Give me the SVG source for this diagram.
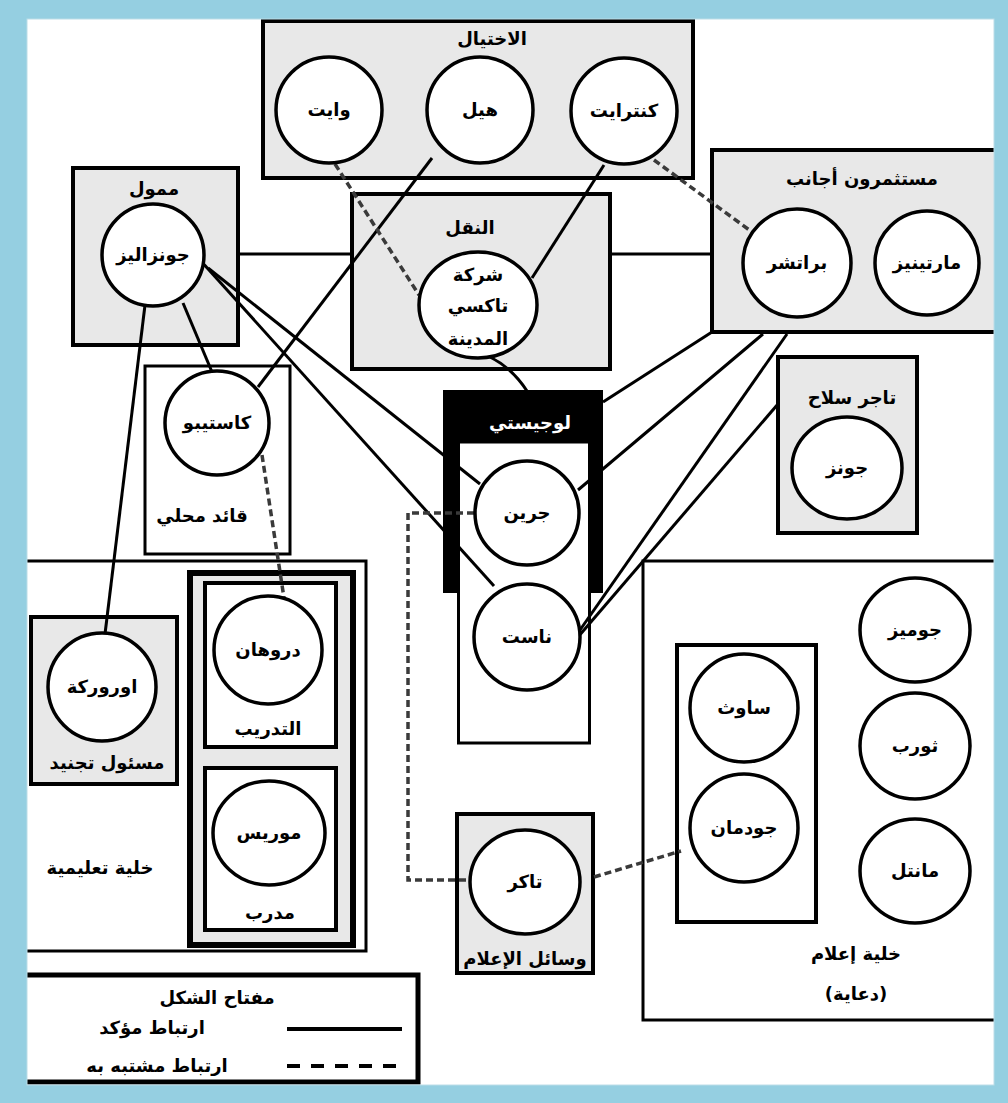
<svg xmlns="http://www.w3.org/2000/svg" width="1008" height="1103" viewBox="0 0 1008 1103">
<style>
.bg{fill:#e8e8e8;stroke:#000;stroke-width:4}
.bw{fill:#fff;stroke:#000;stroke-width:3}
.bw4{fill:#fff;stroke:#000;stroke-width:4}
.nd{fill:#fff;stroke:#000;stroke-width:3.5}
text{font-family:"DejaVu Sans","Noto Sans",sans-serif;font-weight:bold;font-size:18px;text-anchor:middle;fill:#000}
.wt{fill:#fff}
.sl{stroke:#000;stroke-width:3;fill:none}
.ds{stroke:#3a3a3a;stroke-width:3.5;stroke-dasharray:7 4;fill:none}
</style>
<rect x="0" y="0" width="1008" height="1103" fill="#fff"/>

<g id="containers">
  <g id="box-ikhtiyal"><rect class="bg" x="263" y="21" width="430" height="157"/><text x="492" y="45">الاختيال</text></g>
  <g id="box-mumawwil"><rect class="bg" x="73" y="168" width="165" height="177"/><text x="154" y="195">ممول</text></g>
  <g id="box-naql"><rect class="bg" x="352" y="194" width="258" height="175"/><text x="470" y="234">النقل</text></g>
  <g id="box-investors"><rect class="bg" x="712" y="150" width="290" height="182"/><text x="862" y="185">مستثمرون أجانب</text></g>
  <g id="box-local"><rect class="bw" x="145" y="366" width="145" height="188"/><text x="202" y="522">قائد محلي</text></g>
  <g id="box-training-cell"><rect class="bw" x="20" y="561" width="346" height="390"/><text x="100" y="874">خلية تعليمية</text></g>
  <g id="box-recruit"><rect class="bg" x="31" y="617" width="146" height="167"/><text x="107" y="769">مسئول تجنيد</text></g>
  <g id="box-training-outer"><rect fill="#e8e8e8" stroke="#000" stroke-width="6" x="190" y="573" width="163" height="372"/></g>
  <g id="box-tadrib"><rect class="bw4" x="205" y="583" width="131" height="164"/><text x="268" y="735">التدريب</text></g>
  <g id="box-mudarrib"><rect class="bw4" x="205" y="768" width="131" height="162"/><text x="270" y="919">مدرب</text></g>
  <g id="box-logistics"><rect fill="#000" x="443" y="390" width="160" height="203"/><rect class="bw" x="458.5" y="442" width="131" height="301"/><text class="wt" x="530" y="429">لوجيستي</text></g>
  <g id="box-arms"><rect class="bg" x="778" y="357" width="139" height="176"/><text x="852" y="404">تاجر سلاح</text></g>
  <g id="box-media-cell"><rect class="bw" x="643" y="561" width="360" height="459"/><text x="856" y="960">خلية إعلام</text><text x="856" y="1000">(دعاية)</text></g>
  <g id="box-south"><rect class="bw4" x="677" y="645" width="139" height="277"/></g>
  <g id="box-media"><rect class="bg" x="457" y="814" width="136" height="159"/><text x="525" y="965">وسائل الإعلام</text></g>
  <g id="legend">
    <rect fill="#fff" stroke="#000" stroke-width="5" x="20" y="975" width="398" height="107"/>
    <text x="217" y="1004">مفتاح الشكل</text>
    <text x="152" y="1034">ارتباط مؤكد</text>
    <text x="157" y="1072">ارتباط مشتبه به</text>
    <line x1="287" y1="1029" x2="402" y2="1029" stroke="#000" stroke-width="4"/>
    <line x1="287" y1="1066" x2="400" y2="1066" stroke="#000" stroke-width="4" stroke-dasharray="13 11"/>
  </g>
</g>

<g id="connectors">
  <path class="sl" d="M238,254 H352"/>
  <path class="sl" d="M610,254 H712"/>
  <path class="sl" d="M432,158 L258,387"/>
  <path class="sl" d="M604,165 L532,278"/>
  <path class="sl" d="M208,268 L480,484"/>
  <path class="sl" d="M200,260 L494,586"/>
  <path class="sl" d="M183,303 L212,372"/>
  <path class="sl" d="M145,305 L105,634"/>
  <path class="sl" d="M490,357 Q512,368 527,391"/>
  <path class="sl" d="M712,332 L603,402"/>
  <path class="sl" d="M763,334 L578,490"/>
  <path class="sl" d="M787,334 L580,630"/>
  <path class="sl" d="M778,404 L578,637"/>
  <path class="ds" d="M335,164 L419,295"/>
  <path class="ds" d="M654,160 L752,232"/>
  <path class="ds" d="M262,455 L284,598"/>
  <path class="ds" d="M474,513 H408 V880 H470"/>
  <path class="ds" d="M594,877 L681,851"/>
</g>

<g id="n-white"><circle class="nd" cx="329" cy="110" r="53"/><text x="329" y="116">وايت</text></g>
<g id="n-hill"><circle class="nd" cx="480" cy="110" r="53"/><text x="480" y="116">هيل</text></g>
<g id="n-kentrait"><circle class="nd" cx="624" cy="111" r="53"/><text x="624" y="117">كنترايت</text></g>
<g id="n-gonzalez"><circle class="nd" cx="153" cy="255" r="51"/><text x="153" y="261">جونزاليز</text></g>
<g id="n-taxi"><ellipse class="nd" cx="478" cy="305" rx="59" ry="53"/><text x="478" y="281">شركة</text><text x="478" y="312">تاكسي</text><text x="478" y="345">المدينة</text></g>
<g id="n-bratcher"><circle class="nd" cx="797" cy="263" r="54"/><text x="797" y="269">براتشر</text></g>
<g id="n-martinez"><circle class="nd" cx="927" cy="263" r="52"/><text x="927" y="269">مارتينيز</text></g>
<g id="n-castibo"><circle class="nd" cx="217" cy="423" r="52"/><text x="217" y="429">كاستيبو</text></g>
<g id="n-orourke"><circle class="nd" cx="102" cy="687" r="54"/><text x="102" y="693">اوروركة</text></g>
<g id="n-drohan"><circle class="nd" cx="268" cy="650" r="54"/><text x="268" y="656">دروهان</text></g>
<g id="n-morris"><ellipse class="nd" cx="269" cy="833" rx="56" ry="52"/><text x="269" y="839">موريس</text></g>
<g id="n-green"><circle class="nd" cx="527" cy="513" r="52"/><text x="527" y="519">جرين</text></g>
<g id="n-nast"><circle class="nd" cx="527" cy="637" r="53"/><text x="527" y="643">ناست</text></g>
<g id="n-jones"><ellipse class="nd" cx="847" cy="468" rx="55" ry="51"/><text x="847" y="474">جونز</text></g>
<g id="n-jomez"><ellipse class="nd" cx="915" cy="630" rx="55" ry="52"/><text x="915" y="636">جوميز</text></g>
<g id="n-thorp"><ellipse class="nd" cx="915" cy="746" rx="55" ry="53"/><text x="915" y="752">ثورب</text></g>
<g id="n-mantel"><ellipse class="nd" cx="915" cy="871" rx="55" ry="52"/><text x="915" y="877">مانتل</text></g>
<g id="n-south"><circle class="nd" cx="744" cy="708" r="54"/><text x="744" y="714">ساوث</text></g>
<g id="n-goodman"><circle class="nd" cx="744" cy="828" r="54"/><text x="744" y="834">جودمان</text></g>
<g id="n-tucker"><ellipse class="nd" cx="525" cy="882" rx="55" ry="52"/><text x="525" y="888">تاكر</text></g>

<path id="frame" fill="#95cfe1" fill-rule="evenodd" d="M0,0 H1008 V1103 H0 Z M27,19 V1085 H994 V19 Z"/>
<rect x="27" y="19" width="967" height="1066" fill="none" stroke="#bcdde8" stroke-width="1"/>
</svg>
